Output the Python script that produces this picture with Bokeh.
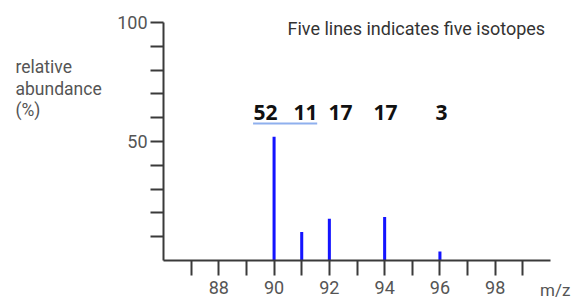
from bokeh.plotting import figure
from bokeh.models import FixedTicker, Label, Range1d, ColumnDataSource
from bokeh.core.properties import value
from bokeh.embed import file_html
from bokeh.resources import INLINE

# ---- data ----
masses = [90, 91, 92, 94, 96]
abundance = [52, 12, 17.5, 18.3, 3.8]
label_texts = ["52", "11", "17", "17", "3"]
x_ticks = [87, 88, 89, 90, 91, 92, 93, 94, 95, 96, 97, 98, 99]
y_ticks = [10, 20, 30, 40, 50, 60, 70, 80, 90, 100]
y_labelled = [50, 100]
title_text = "Five lines indicates five isotopes"
y_title = ["relative", "abundance", "(%)"]
x_title = "m/z"

# ---- layout / styling (not data) ----
label_dx = [-0.31, 0.14, 0.40, 0.03, 0.06]
FONT = "Roboto"
AX = "#3a3a3a"
TXT = "#555555"

p = figure(width=578, height=300, output_backend="svg", toolbar_location=None,
           x_range=Range1d(80.103, 101.013), y_range=Range1d(-16.807, 109.244),
           min_border=0)
p.outline_line_color = None
p.xgrid.visible = False
p.ygrid.visible = False
p.background_fill_color = "white"

# x axis
xa = p.xaxis[0]
xa.fixed_location = 0
xa.ticker = FixedTicker(ticks=x_ticks)
xa.major_label_overrides = {t: ("" if t % 2 else str(t)) for t in x_ticks}
xa.bounds = (86, 100)
xa.axis_line_color = AX
xa.axis_line_width = 2
xa.major_tick_line_color = AX
xa.major_tick_line_width = 2
xa.major_tick_out = 15
xa.major_tick_in = 0
xa.minor_tick_line_color = None
xa.major_label_standoff = 6
xa.major_label_text_font = FONT
xa.major_label_text_font_size = "18px"
xa.major_label_text_color = TXT

# y axis
ya = p.yaxis[0]
ya.fixed_location = 86
ya.ticker = FixedTicker(ticks=y_ticks)
ya.major_label_overrides = {t: (str(t) if t in y_labelled else "") for t in y_ticks}
ya.bounds = (0, 100)
ya.axis_line_color = AX
ya.axis_line_width = 2
ya.major_tick_line_color = AX
ya.major_tick_line_width = 2
ya.major_tick_out = 13
ya.major_tick_in = 0
ya.minor_tick_line_color = None
ya.major_label_standoff = 3
ya.major_label_text_font = FONT
ya.major_label_text_font_size = "18px"
ya.major_label_text_color = TXT

# bars
src = ColumnDataSource(dict(x=masses, top=abundance))
p.vbar(x="x", top="top", width=0.11, bottom=0, source=src,
       fill_color="#1414ff", line_color=None)

# value labels
lab_x = [m + d for m, d in zip(masses, label_dx)]
lsrc = ColumnDataSource(dict(x=lab_x, y=[62.2] * len(masses), t=label_texts))
p.text(x="x", y="y", text="t", source=lsrc, text_font=value("Open Sans"),
       text_font_style="bold", text_font_size="21px", text_color="#111111",
       text_align="center", text_baseline="middle")
# underline under first two labels
p.segment(x0=[lab_x[0] - 0.45], y0=[57.6], x1=[lab_x[1] + 0.42], y1=[57.6],
          line_color="#8fb0ee", line_width=2)

# title text
p.add_layout(Label(x=90.485, y=97.5, text=title_text, text_font=FONT,
                   text_font_size="18px", text_color="#333333",
                   text_baseline="alphabetic", text_align="left"))

# y title
for i, t in enumerate(y_title):
    p.add_layout(Label(x=80.646, y=81.1 - i * 9.0, text=t, text_font=FONT,
                       text_font_size="17.5px", text_color="#555555",
                       text_baseline="alphabetic", text_align="left"))

# x title
p.add_layout(Label(x=99.62, y=-12.3, text=x_title, text_font=FONT,
                   text_font_size="17px", text_color="#555555",
                   text_baseline="alphabetic", text_align="left"))

open("out.html", "w").write(file_html(p, INLINE))
